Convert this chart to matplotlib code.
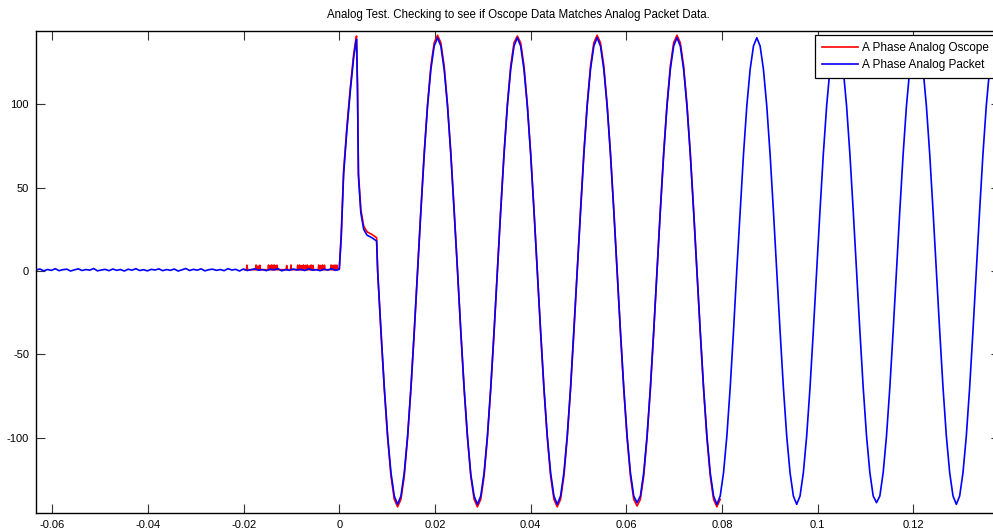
import numpy as np
import matplotlib
matplotlib.use("Agg")
import matplotlib.pyplot as plt

# ── data ──────────────────────────────────────────────────────────────────────
# pre-trigger baseline (packet), evenly sampled from the left edge up to t = 0
base_t0, base_t1 = -0.0634, 0.0
base_v = [
    0.6, 1.2, 0.1, 0.9, 0.4, 1.4, 0.2, 0.8, 1.1, 0.0,
    0.7, 1.3, 0.3, 0.9, 0.5, 1.5, 0.1, 0.6, 1.0, 0.2,
    1.2, 0.4, 0.9, 0.0, 1.1, 0.5, 1.4, 0.3, 0.8, 0.1,
    1.0, 0.6, 1.3, 0.2, 0.9, 0.4, 1.2, 0.0, 0.7, 1.5,
    0.3, 1.0, 0.5, 1.3, 0.1, 0.8, 1.1, 0.4, 0.9, 0.2,
    1.4, 0.6, 1.0, 0.0, 1.2, 0.3, 0.8, 1.3, 0.5, 0.9,
    0.2, 1.1, 0.7, 1.4, 0.1, 0.9, 0.4, 1.2, 0.6, 1.0,
    0.3, 1.3, 0.5, 0.8, 0.2, 1.1, 0.6, 1.4, 0.4, 1.0,
]

# oscope pre-trigger: flat with noise spikes
red_pre_start = -0.0198
red_pre_level = 0.8
red_spike_t = [-0.0193, -0.0174, -0.0170, -0.0166, -0.0148, -0.0145, -0.0142,
               -0.0139, -0.0136, -0.0133, -0.0130, -0.0110, -0.0101, -0.0087,
               -0.0083, -0.0079, -0.0075, -0.0071, -0.0067, -0.0063, -0.0059,
               -0.0055, -0.0043, -0.0039, -0.0035, -0.0031, -0.0017, -0.0013,
               -0.0009, -0.0005]
red_spike_v = [3.5, 3.6, 3.0, 3.5, 3.6, 3.2, 3.6, 3.4, 3.6, 3.1, 3.5, 3.3, 3.6,
               3.5, 3.6, 3.2, 3.6, 3.4, 3.6, 3.1, 3.6, 3.4, 3.6, 3.3, 3.6, 3.5,
               3.6, 3.4, 3.6, 3.5]

# switching transient after the trigger
trans_t = [0.0000, 0.0004, 0.0009, 0.0016, 0.0023, 0.0030, 0.0034, 0.0036,
           0.0038, 0.0040, 0.0045, 0.0051, 0.0058, 0.0068, 0.0078]
blue_trans_v = [1.0, 20, 58, 85, 108, 128, 136, 139, 110, 57, 35, 25, 21.5, 20, 18]
red_trans_v = [1.5, 22, 60, 87, 110, 130, 138, 141, 112, 59, 37, 27, 23.5, 22, 20]

# steady-state wave, sampled 24x per cycle from the first falling zero crossing
wave_t0 = 0.00802
wave_dt = 0.00069529
blue_wave_v = [
    0, -36, -70, -99, -121, -135, -140, -135, -121, -99, -70, -36,
    0, 36, 70, 99, 121, 135, 140, 135, 121, 99, 70, 36,
    1, -36, -70, -99, -122, -135, -140, -135, -121, -99, -70, -36,
    0, 36, 70, 99, 121, 135, 140, 135, 121, 99, 70, 36,
    0, -36, -70, -99, -121, -135, -140, -135, -121, -99, -70, -35,
    0, 36, 70, 99, 121, 135, 140, 135, 121, 99, 70, 36,
    0, -36, -70, -99, -121, -135, -139, -135, -121, -99, -70, -36,
    0, 36, 70, 99, 121, 135, 140, 135, 121, 99, 70, 36,
    0, -36, -70, -99, -121, -135, -140, -135, -121, -99, -70, -36,
    1, 36, 70, 99, 121, 135, 140, 135, 121, 99, 70, 36,
    0, -36, -70, -99, -121, -135, -140, -135, -121, -99, -70, -36,
    0, 36, 70, 99, 121, 135, 140, 135, 121, 99, 70, 36,
    0, -36, -70, -99, -121, -135, -139, -135, -121, -99, -70, -36,
    0, 36, 70, 99, 121, 135, 140, 135, 121, 99, 70, 36,
    0, -36, -70, -99, -121, -135, -140, -135, -121, -99, -70, -36,
    0, 36, 70, 99, 121, 135, 140, 135, 121, 99, 70, 36,
]
red_wave_v = [
    0, -37, -71, -100, -123, -137, -141.5, -137, -123, -100, -71, -37,
    0, 37, 71, 100, 123, 137, 141.5, 137, 123, 100, 71, 37,
    0, -37, -71, -100, -123, -137, -141.5, -137, -123, -100, -71, -37,
    0, 37, 71, 100, 123, 137, 141, 137, 123, 100, 71, 37,
    0, -37, -71, -100, -123, -137, -141.5, -137, -123, -100, -71, -37,
    0, 37, 71, 100, 123, 137, 141.5, 137, 123, 100, 71, 37,
    0, -37, -71, -100, -123, -137, -141, -137, -123, -100, -71, -37,
    0, 37, 71, 100, 123, 137, 141.5, 137, 123, 100, 71, 37,
    0, -37, -71, -100, -123, -137, -141.5, -137,
]

labels = ["A Phase Analog Oscope", "A Phase Analog Packet"]
xticks = [-0.06, -0.04, -0.02, 0, 0.02, 0.04, 0.06, 0.08, 0.1, 0.12]
xtick_labels = ["-0.06", "-0.04", "-0.02", "0", "0.02", "0.04", "0.06", "0.08", "0.1", "0.12"]
yticks = [-100, -50, 0, 50, 100]
title = "Analog Test. Checking to see if Oscope Data Matches Analog Packet Data."

# ── assemble the two traces ───────────────────────────────────────────────────
base_t = np.linspace(base_t0, base_t1, len(base_v))
blue_wave_t = wave_t0 + wave_dt * np.arange(len(blue_wave_v))
red_wave_t = wave_t0 + wave_dt * np.arange(len(red_wave_v))

blue_t = np.concatenate([base_t[:-1], trans_t, blue_wave_t])
blue_v = np.concatenate([base_v[:-1], blue_trans_v, blue_wave_v])

rt, rv = [red_pre_start], [red_pre_level]
for ts, h in zip(red_spike_t, red_spike_v):
    rt += [ts - 0.0001, ts, ts + 0.0001]
    rv += [red_pre_level, h, red_pre_level]
red_t = np.concatenate([rt, trans_t, red_wave_t])
red_v = np.concatenate([rv, red_trans_v, red_wave_v])

# ── figure ────────────────────────────────────────────────────────────────────
plt.rcParams["font.family"] = ["Liberation Sans", "DejaVu Sans"]
plt.rcParams["axes.unicode_minus"] = False
fig = plt.figure(figsize=(9.93, 5.29), dpi=100)
ax = fig.add_axes([36 / 993, 1 - 513 / 529, 964 / 993, 482.3 / 529])

ax.plot(red_t, red_v, color="#ff0000", lw=1.2, label=labels[0])
ax.plot(blue_t, blue_v, color="#0000ff", lw=1.2, label=labels[1])

ax.set_xlim(-0.06341, 0.13813)
ax.set_ylim(-145.2, 144.2)
ax.set_xticks(xticks)
ax.set_xticklabels(xtick_labels)
ax.set_yticks(yticks)
ax.tick_params(direction="in", length=6.5, width=0.8, top=True, right=True,
               labelsize=8, pad=5, color="#333333")
for s in ax.spines.values():
    s.set_linewidth(1.0)
ax.set_title(title, fontsize=8.3, pad=9)

leg = ax.legend(loc="upper right", fontsize=8.5, frameon=True, fancybox=False,
                framealpha=1, edgecolor="black", handlelength=3.1,
                handletextpad=0.3, borderpad=0.55, labelspacing=0.45,
                borderaxespad=0.4)
leg.get_frame().set_linewidth(0.9)

fig.savefig("out.png", dpi=100)
